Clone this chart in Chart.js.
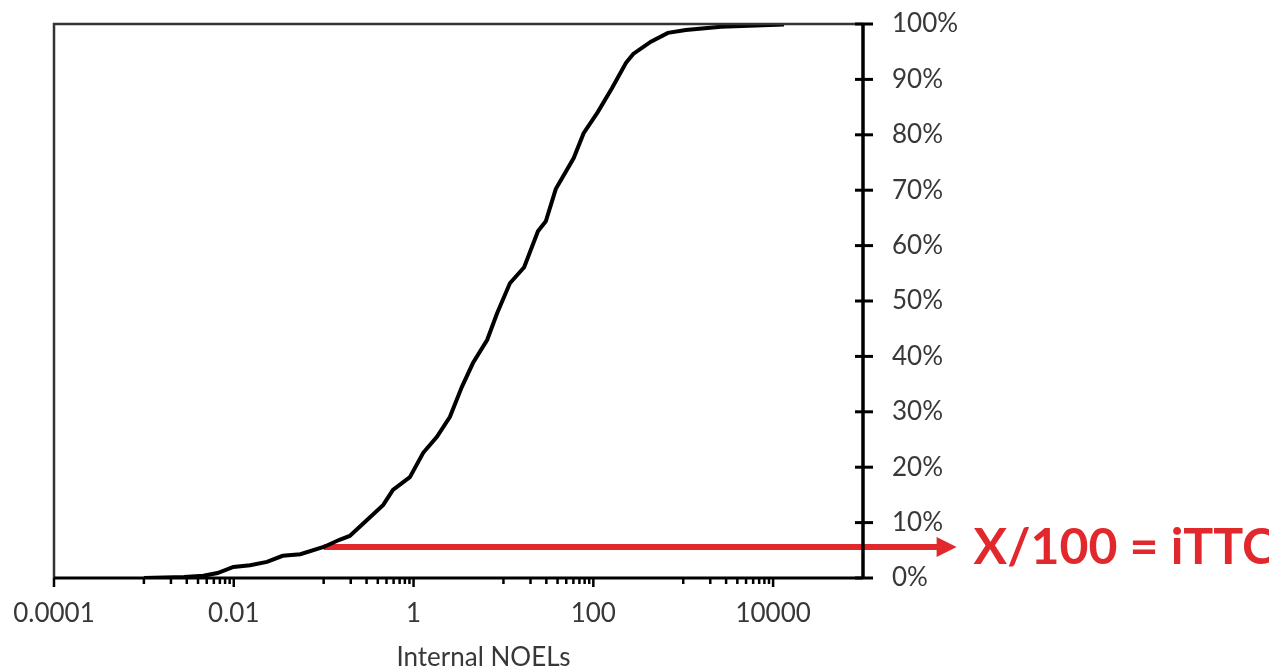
<!DOCTYPE html>
<html>
<head>
<meta charset="utf-8">
<script src="https://cdn.jsdelivr.net/npm/chart.js@4.4.1/dist/chart.umd.min.js"></script>
<style>
  html, body { margin: 0; padding: 0; background: #fff; }
</style>
</head>
<body>
<canvas id="cdf" width="1269" height="672"></canvas>
<script>
// Cumulative distribution of internal NOELs
const NOEL = [0.001, 0.0028, 0.0046, 0.0066, 0.0099, 0.0152, 0.0234, 0.035, 0.055, 0.1,
  0.15, 0.195, 0.33, 0.46, 0.59, 0.91, 1.28, 1.82, 2.54, 3.45,
  4.58, 6.6, 8.5, 11.8, 17, 24.2, 29.6, 38.2, 60.5, 78,
  112, 161, 231, 278, 437, 675, 1070, 2630, 13200];
const CUM_PCT = [0, 0.2, 0.4, 0.9, 2.0, 2.3, 2.9, 4.0, 4.3, 5.6,
  6.9, 7.6, 11.0, 13.2, 15.9, 18.2, 22.6, 25.5, 29.1, 34.5,
  38.8, 43.0, 47.8, 53.2, 56.1, 62.6, 64.4, 70.2, 75.8, 80.3,
  84.1, 88.4, 93.0, 94.6, 96.8, 98.4, 98.9, 99.5, 99.9];

const X_MIN = 0.0001, X_MAX = 100000;
const X_TICKS = [0.0001, 0.01, 1, 100, 10000];
const X_TICK_LABELS = ["0.0001", "0.01", "1", "100", "10000"];
// unbeschriftete Zwischenstriche: 1..9 x diese Werte
const X_MINOR_BASES = [0.001, 0.1, 10, 1000];
const Y_TICKS = [0, 10, 20, 30, 40, 50, 60, 70, 80, 90, 100];

// Pfeil vom Kurvenpunkt nach rechts über die Achse hinaus
const ARROW_X = [0.1, 1100000];
const ARROW_PCT = 5.6;
const ARROW_TEXT = "X/100 = iTTC";
const X_TITLE = "Internal NOELs";

const RED = "#e1282d";
const TXT = "#383838";
const FONT = "Lato, 'Open Sans', sans-serif";

const X_MINOR = X_MINOR_BASES.flatMap(b => [1, 2, 3, 4, 5, 6, 7, 8, 9].map(k => k * b));

// Chart.js soll keine eigenen Label-Abstände aufschlagen, Rand kommt nur aus layout.padding
function noScalePadding(s) {
  s.paddingTop = 0; s.paddingBottom = 0; s.paddingLeft = 0; s.paddingRight = 0;
}

const frame = {
  id: "frame",
  beforeDatasetsDraw(chart) {
    const { ctx, scales: { x, y } } = chart;
    const py = y.getPixelForValue(ARROW_PCT);
    const x0 = x.getPixelForValue(ARROW_X[0]);
    const x1 = x.getPixelForValue(ARROW_X[1]);
    ctx.save();
    ctx.strokeStyle = RED; ctx.fillStyle = RED; ctx.lineWidth = 6;
    ctx.beginPath(); ctx.moveTo(x0, py); ctx.lineTo(x1 - 14, py); ctx.stroke();
    ctx.beginPath();
    ctx.moveTo(x1, py); ctx.lineTo(x1 - 20, py - 10); ctx.lineTo(x1 - 20, py + 10);
    ctx.closePath(); ctx.fill();
    ctx.font = "bold 50px " + FONT;
    ctx.textBaseline = "middle";
    ctx.fillText(ARROW_TEXT, x1 + 17, py + 1);
    ctx.restore();
  },
  afterDatasetsDraw(chart) {
    const { ctx, chartArea: a, scales: { x, y } } = chart;
    ctx.save();
    // Rahmen links / oben
    ctx.strokeStyle = "#333"; ctx.lineWidth = 2.5;
    ctx.beginPath(); ctx.moveTo(a.left, a.bottom); ctx.lineTo(a.left, a.top); ctx.lineTo(a.right, a.top); ctx.stroke();
    // Achsen
    ctx.strokeStyle = "#000"; ctx.lineWidth = 3;
    ctx.beginPath(); ctx.moveTo(a.left, a.bottom); ctx.lineTo(a.right, a.bottom); ctx.stroke();
    ctx.lineWidth = 3.5;
    ctx.beginPath(); ctx.moveTo(a.right, a.top); ctx.lineTo(a.right, a.bottom); ctx.stroke();
    ctx.lineWidth = 3;
    Y_TICKS.forEach(v => {
      const py = y.getPixelForValue(v);
      ctx.beginPath(); ctx.moveTo(a.right - 8, py); ctx.lineTo(a.right + 10, py); ctx.stroke();
    });
    ctx.lineWidth = 2.5;
    X_TICKS.forEach(v => {
      const px = x.getPixelForValue(v);
      ctx.beginPath(); ctx.moveTo(px, a.bottom); ctx.lineTo(px, a.bottom + 9); ctx.stroke();
    });
    X_MINOR.forEach(v => {
      const px = x.getPixelForValue(v);
      ctx.beginPath(); ctx.moveTo(px, a.bottom); ctx.lineTo(px, a.bottom + 6); ctx.stroke();
    });
    ctx.restore();
  },
  afterDraw(chart) {
    const { ctx, chartArea: a } = chart;
    ctx.save();
    ctx.font = "26px " + FONT;
    ctx.fillStyle = TXT;
    ctx.textAlign = "center";
    ctx.textBaseline = "middle";
    ctx.fillText(X_TITLE, (a.left + a.right) / 2 + 25, 658);
    ctx.restore();
  }
};

new Chart(document.getElementById("cdf"), {
  type: "line",
  data: {
    datasets: [{
      data: NOEL.map((v, i) => ({ x: v, y: CUM_PCT[i] })),
      borderColor: "#000",
      borderWidth: 4,
      pointRadius: 0,
      tension: 0,
      fill: false
    }]
  },
  options: {
    responsive: false,
    animation: false,
    layout: { padding: { left: 54, top: 24, right: 0, bottom: 0 } },
    plugins: { legend: { display: false }, tooltip: { enabled: false } },
    scales: {
      x: {
        type: "logarithmic",
        min: X_MIN, max: X_MAX,
        afterBuildTicks: s => { s.ticks = X_TICKS.map(v => ({ value: v })); },
        afterFit: s => { s.height = 94; noScalePadding(s); },
        grid: { display: false, drawTicks: false },
        border: { display: false },
        ticks: {
          autoSkip: false, maxRotation: 0, padding: 20,
          color: TXT, font: { family: FONT, size: 26 },
          callback: (v, i) => X_TICK_LABELS[i]
        }
      },
      y: {
        position: "right",
        min: 0, max: 100,
        afterBuildTicks: s => { s.ticks = Y_TICKS.map(v => ({ value: v })); },
        afterFit: s => { s.width = 406; noScalePadding(s); },
        grid: { display: false, drawTicks: false },
        border: { display: false },
        ticks: {
          padding: 29,
          color: TXT, font: { family: FONT, size: 26 },
          callback: v => v + "%"
        }
      }
    }
  },
  plugins: [frame]
});
</script>
</body>
</html>
